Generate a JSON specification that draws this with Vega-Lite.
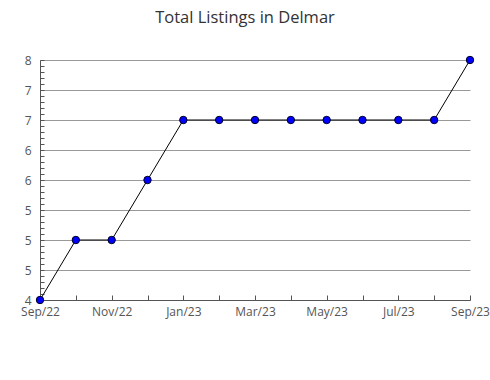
{
  "$schema": "https://vega.github.io/schema/vega-lite/v6.json",
  "width": 430,
  "height": 240,
  "autosize": "none",
  "padding": {"left": 40, "top": 60, "right": 20, "bottom": 80},
  "background": "white",
  "title": {"text": "Total Listings in Delmar", "fontSize": 16.5, "font": "Open Sans", "fontWeight": "normal", "color": "#333333", "offset": 28, "dx": -10},
  "config": {
    "view": {"stroke": null},
    "axis": {"labelFont": "Open Sans", "labelFontSize": 12, "labelColor": "#555555", "domainColor": "#555555", "tickColor": "#555555", "gridColor": "#999999", "title": null}
  },
  "data": {"values": [
    {"month": "Sep/22", "value": 4},
    {"month": "Oct/22", "value": 5},
    {"month": "Nov/22", "value": 5},
    {"month": "Dec/22", "value": 6},
    {"month": "Jan/23", "value": 7},
    {"month": "Feb/23", "value": 7},
    {"month": "Mar/23", "value": 7},
    {"month": "Apr/23", "value": 7},
    {"month": "May/23", "value": 7},
    {"month": "Jun/23", "value": 7},
    {"month": "Jul/23", "value": 7},
    {"month": "Aug/23", "value": 7},
    {"month": "Sep/23", "value": 8}
  ]},
  "encoding": {
    "x": {"field": "month", "type": "ordinal", "sort": null, "scale": {"type": "point", "padding": 0},
      "axis": {"labelAngle": 0, "grid": false, "tickSize": -5, "labelPadding": 11,
        "labelExpr": "indexof(['Oct/22','Dec/22','Feb/23','Apr/23','Jun/23','Aug/23'], datum.label) >= 0 ? '' : datum.label"}},
    "y": {"field": "value", "type": "quantitative", "scale": {"domain": [4, 8], "nice": false, "zero": false},
      "axis": {"values": [4,4.1,4.2,4.3,4.4,4.5,4.6,4.7,4.8,4.9,5,5.1,5.2,5.3,5.4,5.5,5.6,5.7,5.8,5.9,6,6.1,6.2,6.3,6.4,6.5,6.6,6.7,6.8,6.9,7,7.1,7.2,7.3,7.4,7.5,7.6,7.7,7.8,7.9,8],
        "grid": true, "tickSize": -4, "labelPadding": 13, "labelOverlap": false,
        "gridOpacity": {"condition": {"test": "abs(datum.value*2 - round(datum.value*2)) < 0.01", "value": 1}, "value": 0},
        "labelExpr": "abs(datum.value*2-round(datum.value*2))>0.01 ? '' : datum.value<4.25 ? '4' : datum.value<5.75 ? '5' : datum.value<6.75 ? '6' : datum.value<7.75 ? '7' : '8'"}}
  },
  "layer": [
    {"mark": {"type": "line", "color": "black", "strokeWidth": 1}},
    {"mark": {"type": "point", "shape": "circle", "filled": true, "fill": "#0000ff", "stroke": "#000022", "strokeWidth": 1, "size": 55, "opacity": 1}}
  ]
}
